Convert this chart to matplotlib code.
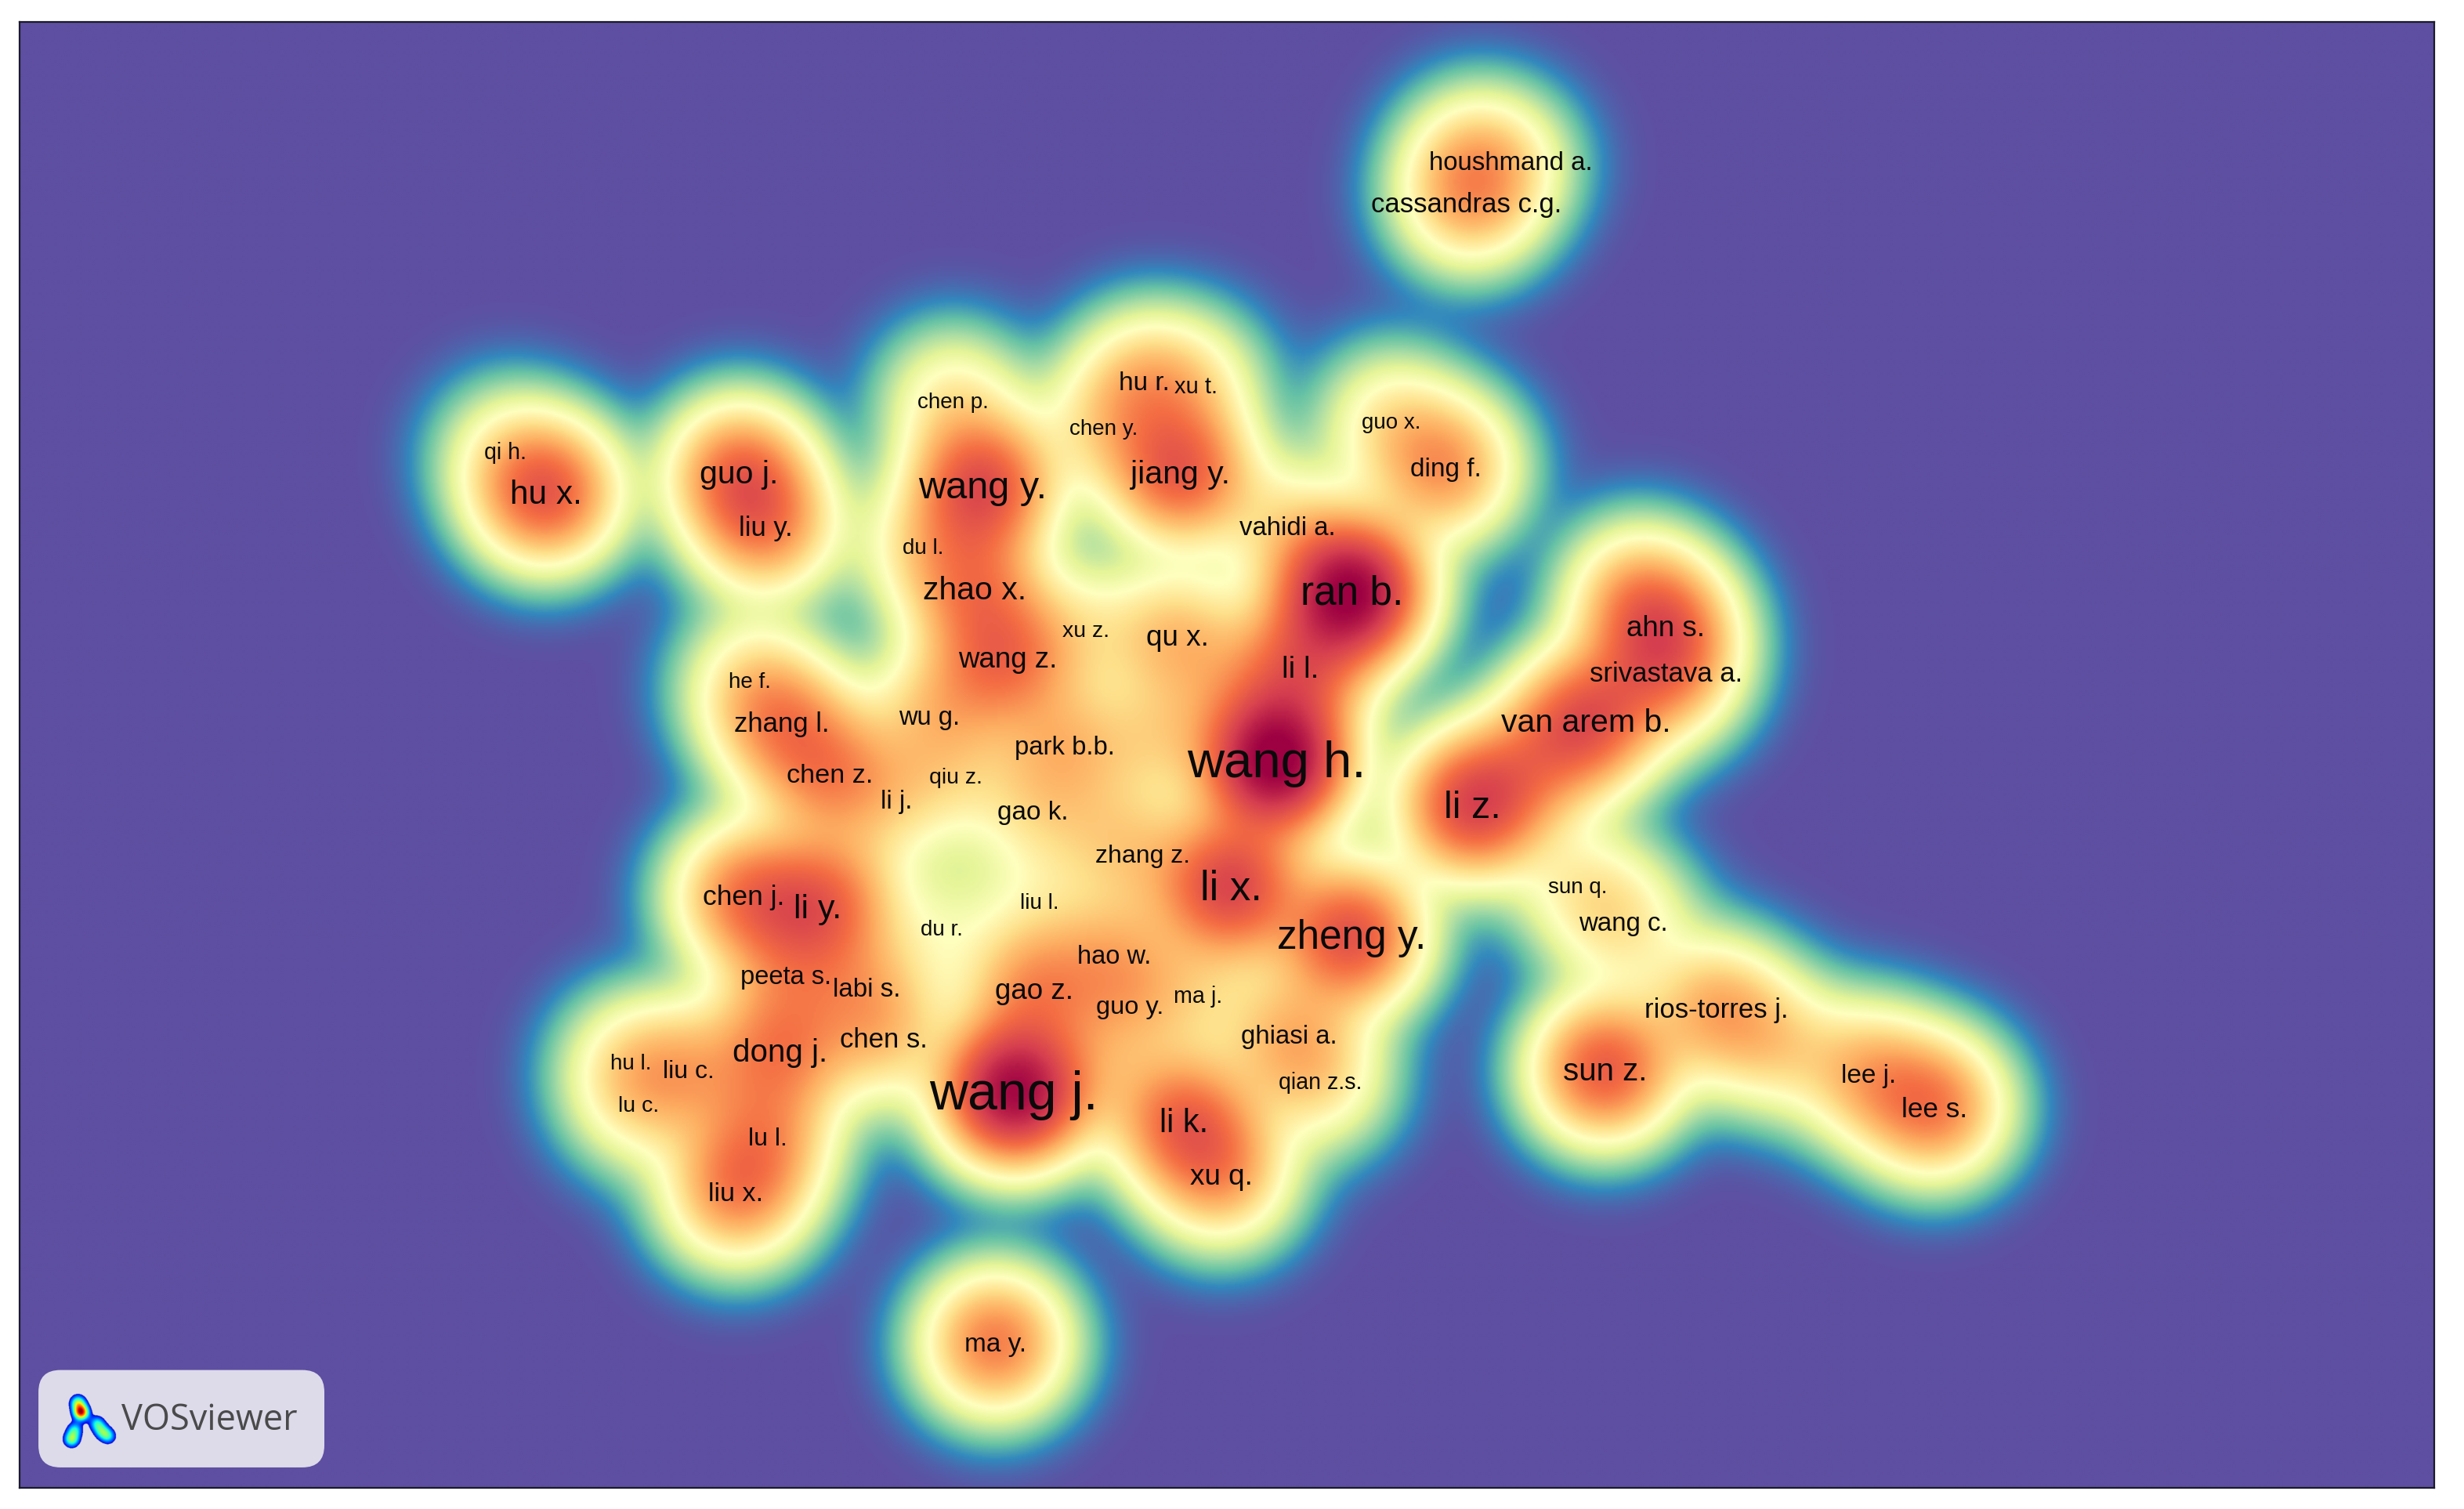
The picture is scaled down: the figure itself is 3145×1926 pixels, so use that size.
import numpy as np
import matplotlib
matplotlib.use('Agg')
import matplotlib.pyplot as plt
from matplotlib.patches import FancyBboxPatch

plt.rcParams['font.family'] = ['Liberation Sans', 'DejaVu Sans']

# author labels (positions in the 1568x960 view)
names = ['wang j.', 'wang h.', 'ran b.', 'li x.', 'zheng y.', 'li z.', 'wang y.', 'hu x.',
         'van arem b.', 'sun z.', 'li k.', 'li y.', 'guo j.', 'jiang y.', 'zhao x.', 'dong j.',
         'chen j.', 'zhang l.', 'chen z.', 'wang z.', 'gao z.', 'liu y.', 'qu x.', 'li l.',
         'ahn s.', 'srivastava a.', 'rios-torres j.', 'houshmand a.', 'cassandras c.g.',
         'chen p.', 'chen y.', 'xu t.', 'hu r.', 'guo x.', 'ding f.', 'vahidi a.', 'du l.',
         'xu z.', 'he f.', 'wu g.', 'park b.b.', 'qiu z.', 'li j.', 'gao k.', 'zhang z.',
         'liu l.', 'du r.', 'hao w.', 'guo y.', 'ma j.', 'ghiasi a.', 'qian z.s.', 'hu l.',
         'lu c.', 'liu c.', 'lu l.', 'liu x.', 'chen s.', 'labi s.', 'peeta s.', 'wang c.',
         'sun q.', 'lee j.', 'lee s.', 'ma y.', 'xu q.', 'qi h.']
xs = [645, 812, 860, 783, 860, 937, 625, 347,
      1009, 1021, 753, 520, 470, 751, 620, 496,
      473, 497, 528, 641, 658, 487, 749, 827,
      1060, 1060, 1092, 961, 933,
      606, 702, 761, 728, 885, 920, 819, 587,
      691, 477, 591, 677, 608, 570, 657, 727,
      661, 599, 709, 719, 762, 820, 840, 401,
      406, 438, 488, 468, 562, 551, 500, 1033,
      1004, 1189, 1231, 633, 777, 321]
ys = [696, 485, 377, 565, 596, 513, 310, 314,
      459, 681, 714, 578, 301, 301, 375, 669,
      570, 460, 493, 419, 630, 335, 405, 425,
      399, 428, 642, 103, 129,
      255, 272, 245, 243, 268, 298, 335, 348,
      401, 433, 456, 475, 494, 509, 516, 544,
      574, 591, 608, 640, 633, 659, 688, 676,
      703, 681, 724, 759, 661, 629, 621, 587,
      564, 684, 705, 855, 748, 287]
label_pt = [49, 47, 37, 38, 37, 35, 35, 30.5,
            29.5, 29, 30, 31, 29.5, 29.5, 29.5, 29,
            25.5, 25, 24.7, 26.4, 26.5, 25, 26.6, 28,
            26.5, 25, 25, 23.8, 25,
            20, 20, 21, 24, 20, 24, 23.7, 20,
            20.5, 20, 23.5, 23.7, 20.5, 23.7, 24, 23,
            20, 20, 23.5, 23.4, 20.6, 23.7, 20.6, 20,
            20.5, 23, 23, 24.6, 25, 23.8, 23.5, 23.8,
            20, 24, 25.3, 24, 26.6, 20.6]
weights = [2.3, 2.5, 2.4, 1.5, 1.4, 1.5, 1.4, 1.3,
           1.3, 1.3, 1.1, 1.0, 1.05, 1.25, 0.8, 0.85,
           0.95, 0.8, 0.8, 0.9, 0.8, 0.85, 0.6, 1.0,
           0.85, 0.75, 0.7, 0.2, 0.3,
           0.4, 0.35, 0.3, 0.55, 0.4, 0.85, 0.4, 0.35,
           0.3, 0.35, 0.35, 0.55, 0.25, 0.3, 0.3, 0.35,
           0.2, 0.2, 0.5, 0.35, 0.3, 0.55, 0.4, 0.35,
           0.3, 0.5, 0.65, 0.9, 0.45, 0.45, 0.45, 0.4,
           0.3, 0.65, 1.0, 1.05, 0.75, 0.25]

# items that carry density but show no label on the map
hidden_x = [938, 937, 735, 1130, 700, 610, 540, 780, 700, 975, 1040]
hidden_y = [100, 125, 470, 665, 530, 440, 560, 440, 680, 487, 378]
hidden_w = [0.4, 0.35, 0.4, 0.45, 0.25, 0.25, 0.2, 0.25, 0.25, 0.55, 0.55]

# little logo in the corner badge
logo_x = [49, 51, 47, 45, 61, 64, 68]
logo_y = [893, 899, 910, 916, 906, 911, 914]
logo_w = [0.5, 0.9, 0.35, 0.5, 0.35, 0.35, 0.35]


def density(gx, gy, px, py, w, s):
    d = np.zeros_like(gx, dtype=float)
    for x0, y0, w0 in zip(px, py, w):
        d += w0 * np.exp(-((gx - x0) ** 2 + (gy - y0) ** 2) / s)
    return d


fig = plt.figure(figsize=(31.45, 19.26), dpi=100, facecolor='white')
ax = fig.add_axes([25 / 3145, 1 - 1899 / 1926, (3107 - 25) / 3145, (1899 - 28) / 1926])

gx, gy = np.meshgrid(np.arange(12, 1550, 1.0), np.arange(14, 948, 1.0))
d = density(gx, gy, xs + hidden_x, ys + hidden_y, weights + hidden_w, 1600.0)
v = np.log1p(14 * d) / np.log1p(14 * 2.5)
ax.imshow(v, extent=(12, 1549, 947, 14), cmap='Spectral_r', vmin=0, vmax=1,
          interpolation='bilinear', aspect='auto')

for name, x, y, pt in zip(names, xs, ys, label_pt):
    ax.text(x, y + 1.2, name, fontsize=pt, color='#0a0a0a', ha='center', va='center')

# VOSviewer badge
badge = FancyBboxPatch((24 + 14, 872 + 14), 182 - 28, 62 - 28,
                       boxstyle='round,pad=14,rounding_size=14',
                       facecolor='#dddaea', edgecolor='none', zorder=3)
ax.add_patch(badge)
lx, ly = np.meshgrid(np.arange(36, 76, 0.25), np.arange(882, 925, 0.25))
ld = density(lx, ly, logo_x, logo_y, logo_w, 22.0)
ax.imshow(np.ma.masked_less(ld, 0.12), extent=(36, 76, 925, 882), cmap='jet', vmin=0, vmax=1,
          interpolation='bilinear', aspect='auto', zorder=4)
ax.text(77, 904, 'VOSviewer', fontsize=32.5, color='#4a4a4a', family='Open Sans',
        ha='left', va='center', zorder=4)

ax.set_xlim(12, 1549)
ax.set_ylim(947, 14)
ax.set_xticks([])
ax.set_yticks([])
for sp in ax.spines.values():
    sp.set_linewidth(1.6)
    sp.set_color('#1a1a2a')

fig.savefig('out.png', dpi=100)
